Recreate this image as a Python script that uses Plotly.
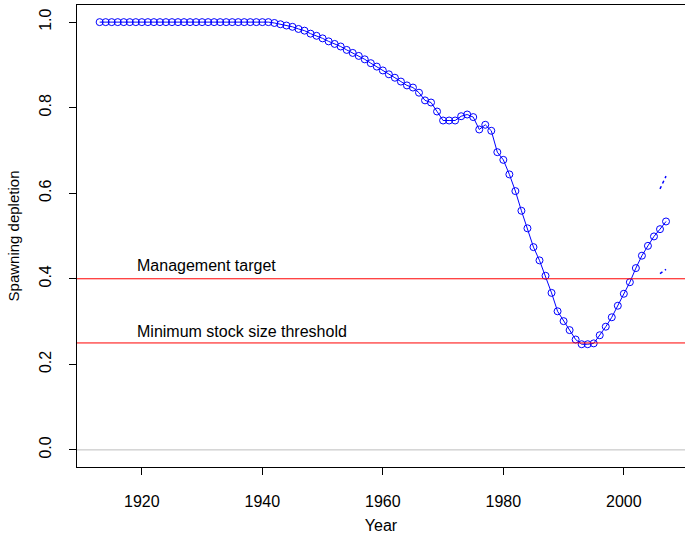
import plotly.graph_objects as go

years = list(range(1913, 2008))
depletion = [1.0, 1.0, 1.0, 1.0, 1.0, 1.0, 1.0, 1.0, 1.0, 1.0,
             1.0, 1.0, 1.0, 1.0, 1.0, 1.0, 1.0, 1.0, 1.0, 1.0,
             1.0, 1.0, 1.0, 1.0, 1.0, 1.0, 1.0, 1.0, 1.0,
             0.998, 0.995, 0.992, 0.989, 0.984, 0.980, 0.973, 0.968, 0.962, 0.955,
             0.949, 0.943, 0.935, 0.928, 0.921, 0.913, 0.904, 0.896, 0.887, 0.878,
             0.870, 0.861, 0.852, 0.847, 0.835, 0.817, 0.812, 0.791, 0.770, 0.770,
             0.770, 0.780, 0.784, 0.778, 0.749, 0.760, 0.746, 0.696, 0.678, 0.644,
             0.605, 0.559, 0.518, 0.474, 0.443, 0.407, 0.367, 0.324, 0.301, 0.280,
             0.258, 0.247, 0.247, 0.249, 0.268, 0.288, 0.310, 0.337, 0.365, 0.392,
             0.425, 0.454, 0.477, 0.499, 0.516, 0.534]

ci_years = [2006, 2007]
ci_upper = [0.610, 0.640]
ci_lower = [0.412, 0.422]

target = 0.40
threshold = 0.25
labels = {'Management target': 0.43, 'Minimum stock size threshold': 0.277}

font = 'Liberation Sans, Arial, sans-serif'

fig = go.Figure()

fig.add_hline(y=0, line=dict(color='#bebebe', width=1))
fig.add_hline(y=target, line=dict(color='#ff0000', width=1))
fig.add_hline(y=threshold, line=dict(color='#ff0000', width=1))

fig.add_scatter(x=years, y=depletion,
                mode='lines+markers',
                line=dict(color='#0000ff', width=1),
                marker=dict(symbol='circle-open', size=7, color='#0000ff',
                            line=dict(width=1, color='#0000ff')),
                showlegend=False)

for band in (ci_upper, ci_lower):
    fig.add_scatter(x=ci_years, y=band, mode='lines',
                    line=dict(color='#0000ff', width=1.5, dash='3px,3px'),
                    showlegend=False)

for text, yv in labels.items():
    fig.add_annotation(x=1918.8, y=yv, text=text, showarrow=False,
                       xanchor='left', yanchor='middle',
                       font=dict(family=font, size=16, color='black'))

fig.update_xaxes(range=[1909.24, 2010.15],
                 tickvals=[1920, 1940, 1960, 1980, 2000],
                 showgrid=False, zeroline=False, automargin=False,
                 showline=True, linecolor='black', linewidth=1, mirror=True,
                 ticks='outside', ticklen=7, tickcolor='black',
                 ticklabelstandoff=13,
                 tickfont=dict(family=font, size=16, color='black'),
                 title=dict(text='Year', standoff=10,
                            font=dict(family=font, size=16, color='black')))

fig.update_yaxes(range=[-0.04, 1.04],
                 tickvals=[0, 0.2, 0.4, 0.6, 0.8, 1.0], tickformat='.1f',
                 tickangle=-90,
                 showgrid=False, zeroline=False, automargin=False,
                 showline=True, linecolor='black', linewidth=1,
                 ticks='outside', ticklen=7, tickcolor='black',
                 ticklabelstandoff=12,
                 tickfont=dict(family=font, size=16, color='black'),
                 title=dict(text='Spawning depletion', standoff=13,
                            font=dict(family=font, size=15, color='black')))

fig.update_layout(width=685, height=538,
                  margin=dict(l=77, r=0, t=5, b=71),
                  paper_bgcolor='white', plot_bgcolor='white')

# browser default body margin would shift the chart by 8px
fig.write_html("out.html", config={'displayModeBar': False},
               post_script="document.body.style.margin='0';")
